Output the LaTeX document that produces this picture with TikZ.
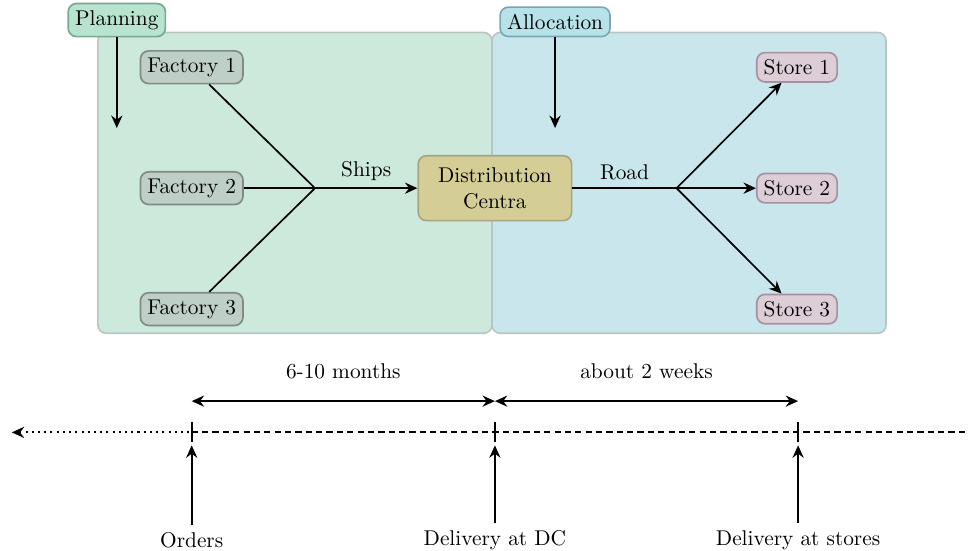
\documentclass[tikz,border=0pt]{standalone}
\usepackage{tikz}
\usetikzlibrary{arrows.meta}
\usetikzlibrary{positioning}
\definecolor{areagreen}{RGB}{205,233,220}
\definecolor{areablue}{RGB}{200,230,236}
\definecolor{areaborder}{RGB}{184,198,194}
\definecolor{planfill}{RGB}{184,228,207}
\definecolor{plandraw}{RGB}{118,168,145}
\definecolor{allocfill}{RGB}{184,226,234}
\definecolor{allocdraw}{RGB}{120,168,178}
\definecolor{factfill}{RGB}{190,207,200}
\definecolor{factdraw}{RGB}{125,140,132}
\definecolor{dcfill}{RGB}{212,205,150}
\definecolor{dcdraw}{RGB}{170,165,128}
\definecolor{storefill}{RGB}{220,205,215}
\definecolor{storedraw}{RGB}{165,145,160}
\tikzstyle{tip} = [>={Stealth[length=6pt,width=5.4pt,inset=2pt]}]
\tikzstyle{arrow} = [thick,->,tip]
\tikzstyle{twoway} = [thick,<->,tip]
\tikzstyle{link} = [thick]
\tikzstyle{timeline} = [line width=1pt]
\tikzstyle{area} = [rounded corners=4pt, draw=areaborder, line width=0.8pt]
\tikzstyle{box} = [rectangle, rounded corners=4pt, thick]
\tikzstyle{factory} = [box, fill=factfill, draw=factdraw]
\tikzstyle{store} = [box, fill=storefill, draw=storedraw]
\tikzstyle{phase} = [box, thick]

\begin{document}
\begin{tikzpicture}[node distance=2.05cm,
    every node/.style={font=\fontsize{10.3}{12.4}\selectfont}]
\useasboundingbox (-8.39,-6.15) rectangle (8.02,3.19);

% background areas
\draw [area, fill=areagreen] (-6.73,-2.46) rectangle (-0.05,2.64);
\draw [area, fill=areablue] (-0.05,-2.46) rectangle (6.63,2.64);

\node (dc) [box, fill=dcfill, draw=dcdraw, align=center,
    minimum width=2.6cm, minimum height=1.1cm] at (0,0) {Distribution\\Centra};

\node (factory2) [factory] at (-5.14,0) {Factory 2};
\node (factory1) [factory, above of=factory2] {Factory 1};
\node (factory3) [factory, below of=factory2] {Factory 3};

\node (store2) [store] at (5.12,0) {Store 2};
\node (store1) [store, above of=store2] {Store 1};
\node (store3) [store, below of=store2] {Store 3};

\coordinate (joinF) at (-3.05,0);
\coordinate (joinS) at (3.08,0);

\draw [link] (factory1) -- (joinF);
\draw [link] (factory2) -- (joinF);
\draw [link] (factory3) -- (joinF);
\draw [arrow] (joinF) -- node[anchor=south] {Ships} (dc);
\draw [link] (dc) -- node[anchor=south] {Road} (joinS);
\draw [arrow] (joinS) -- (store1);
\draw [arrow] (joinS) -- (store2);
\draw [arrow] (joinS) -- (store3);

% planning and allocation
\node (planning) [phase, fill=planfill, draw=plandraw] at (-6.41,2.85) {Planning};
\node (allocation) [phase, fill=allocfill, draw=allocdraw] at (1.02,2.82) {Allocation};
\coordinate (planEnd) at (-6.41,1.02);
\coordinate (allocEnd) at (1.02,1.02);
\draw [arrow] (planning) -- (planEnd);
\draw [arrow] (allocation) -- (allocEnd);

% time line
\coordinate (tlStart) at (-8.19,-4.14);
\coordinate (tlEnd) at (8.02,-4.14);
\coordinate (tOrder) at (-5.14,-4.14);
\coordinate (tDC) at (0,-4.14);
\coordinate (tStore) at (5.14,-4.14);
\draw [timeline, dotted, <-, tip] (tlStart) -- (tOrder);
\draw [timeline, densely dashed] (tOrder) -- (tlEnd);
\foreach \t in {tOrder,tDC,tStore}
    \draw [timeline] (\t) ++(0,0.17) -- ++(0,-0.34);

\coordinate (pOrder) at (-5.14,-3.61);
\coordinate (pDC) at (0,-3.61);
\coordinate (pStore) at (5.14,-3.61);
\draw [twoway] (pOrder) -- node[above=0.25cm] {6-10 months} (pDC);
\draw [twoway] (pDC) -- node[above=0.25cm] {about 2 weeks} (pStore);

\node (orders) at (-5.14,-5.97) {Orders};
\node (deliveryDC) at (0,-5.97) {Delivery at DC};
\node (deliveryStores) at (5.14,-5.97) {Delivery at stores};
\coordinate (aOrder) at (-5.14,-4.36);
\coordinate (aDC) at (0,-4.36);
\coordinate (aStore) at (5.14,-4.36);
\draw [arrow] (orders) -- (aOrder);
\draw [arrow] (deliveryDC) -- (aDC);
\draw [arrow] (deliveryStores) -- (aStore);
\end{tikzpicture}
\end{document}
